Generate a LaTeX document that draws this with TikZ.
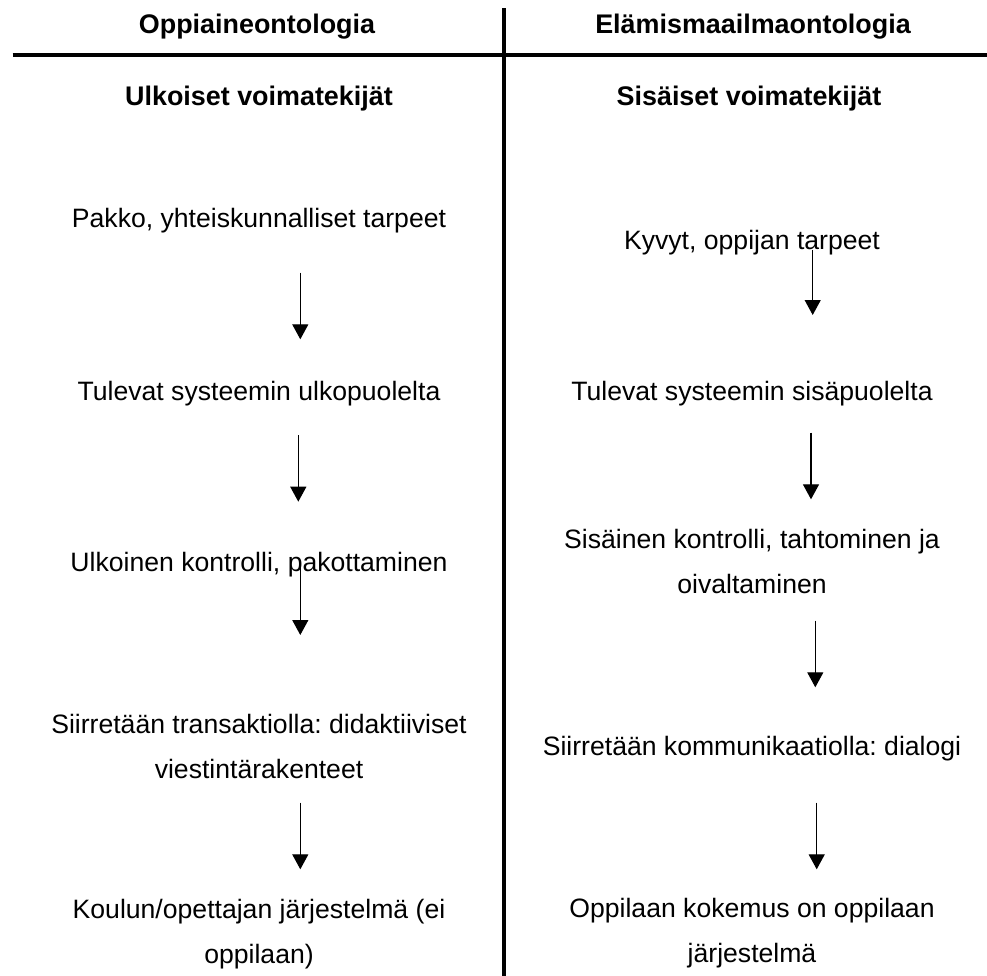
\documentclass[tikz,border=0pt]{standalone}
\usepackage{fontspec}
\setmainfont{Liberation Sans}
\usetikzlibrary{arrows.meta}
\frenchspacing
\begin{document}
\begin{tikzpicture}[x=1pt,y=-1pt,
  txt/.style={anchor=base,align=center,inner sep=0pt,font=\fontsize{26.6}{45}\selectfont\frenchspacing},
  hdr/.style={anchor=base,align=center,inner sep=0pt,font=\fontsize{26.9}{45}\selectfont\bfseries},
  flow/.style={line width=1.3pt,-{Triangle[width=16pt,length=15pt]}},
  rulel/.style={line width=3.6pt}]
\fill[white] (0,0) rectangle (987,976);
\useasboundingbox (0,0) rectangle (987,976);
% rules
\coordinate (hl) at (12.7,55.3);
\coordinate (hr) at (987,55.3);
\coordinate (vt) at (504,8.3);
\coordinate (vb) at (504,976);
\draw[rulel] (hl) -- (hr);
\draw[rulel] (vt) -- (vb);
% headers
\node[hdr] (h1l) at (257,33.3) {Oppiaineontologia};
\node[hdr] (h1r) at (753,33.3) {Elämismaailmaontologia};
\node[hdr] (h2l) at (259,106) {Ulkoiset voimatekijät};
\node[hdr] (h2r) at (749,106) {Sisäiset voimatekijät};
% left column (multi-line nodes: base = last line)
\node[txt] (l1) at (259,227.3) {Pakko, yhteiskunnalliset tarpeet};
\node[txt] (l2) at (259,400) {Tulevat systeemin ulkopuolelta};
\node[txt] (l3) at (259,571) {Ulkoinen kontrolli, pakottaminen};
\node[txt] (l4) at (259,778.3) {Siirretään transaktiolla: didaktiiviset\\viestintärakenteet};
\node[txt] (l5) at (259,963.3) {Koulun/opettajan järjestelmä (ei\\oppilaan)};
% right column
\node[txt] (r1) at (752,250) {Kyvyt, oppijan tarpeet};
\node[txt] (r2) at (752,400) {Tulevat systeemin sisäpuolelta};
\node[txt] (r3) at (752,593.3) {Sisäinen kontrolli, tahtominen ja\\oivaltaminen};
\node[txt] (r4) at (752,755) {Siirretään kommunikaatiolla: dialogi};
\node[txt] (r5) at (752,962) {Oppilaan kokemus on oppilaan\\järjestelmä};
% arrows left
\coordinate (la1) at (300.3,272.7); \coordinate (lb1) at (300.3,339.3);
\coordinate (la2) at (298.3,435);   \coordinate (lb2) at (298.3,501.7);
\coordinate (la3) at (300.3,566.7); \coordinate (lb3) at (300.3,635);
\coordinate (la4) at (300.3,802.7); \coordinate (lb4) at (300.3,869.3);
\draw[flow] (la1) -- (lb1);
\draw[flow] (la2) -- (lb2);
\draw[flow] (la3) -- (lb3);
\draw[flow] (la4) -- (lb4);
% arrows right
\coordinate (ra1) at (812.7,250);   \coordinate (rb1) at (812.7,315);
\coordinate (ra2) at (811,432.7);   \coordinate (rb2) at (811,499.3);
\coordinate (ra3) at (815.3,620.7); \coordinate (rb3) at (815.3,687.3);
\coordinate (ra4) at (816.7,802.7); \coordinate (rb4) at (816.7,869.3);
\draw[flow] (ra1) -- (rb1);
\draw[flow] (ra2) -- (rb2);
\draw[flow] (ra3) -- (rb3);
\draw[flow] (ra4) -- (rb4);
\end{tikzpicture}
\end{document}
